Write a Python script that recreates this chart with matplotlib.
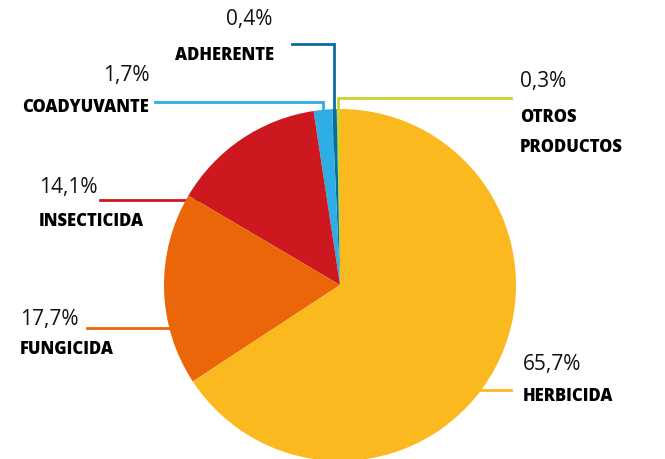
import numpy as np
import matplotlib
matplotlib.use("Agg")
import matplotlib.pyplot as plt

# datos del grafico (porcentaje del mercado por tipo de producto)
categorias = ["OTROS\nPRODUCTOS", "ADHERENTE", "COADYUVANTE", "INSECTICIDA", "FUNGICIDA", "HERBICIDA"]
porcentajes = [0.3, 0.4, 1.7, 14.1, 17.7, 65.7]
etiquetas_pct = ["0,3%", "0,4%", "1,7%", "14,1%", "17,7%", "65,7%"]
colores = ["#c8d42f", "#0b6c9c", "#2eaee4", "#cd181f", "#eb6609", "#fbb920"]

W, H = 665, 460
cx, cy, radio = 340, 286, 176  # en pixeles, origen arriba-izquierda


def Y(y):
    return H - y


# posiciones de los textos: (x, y del %, y de la etiqueta)
textos = {
    "OTROS\nPRODUCTOS": (520, 82, 132),
    "ADHERENTE": (175, 20, 55),
    "COADYUVANTE": (22, 75, 107),
    "INSECTICIDA": (39, 188, 222),
    "FUNGICIDA": (20, 319, 350),
    "HERBICIDA": (523, 365, 397),
}
x_pct = {"ADHERENTE": 226, "COADYUVANTE": 103}

fig = plt.figure(figsize=(W / 100, H / 100), dpi=100)
ax = fig.add_axes([0, 0, 1, 1])

wedges, _ = ax.pie(porcentajes, colors=colores, startangle=90, counterclock=True,
                   center=(cx, Y(cy)), radius=radio, wedgeprops=dict(linewidth=0))
for w in wedges:
    w.set_zorder(3)

ax.set_xlim(0, W)
ax.set_ylim(0, H)
ax.set_aspect("equal")
ax.axis("off")

# lineas guia
lw = 2.0
# las tres pequenas salen hacia arriba desde la mitad de su porcion
codos = {"OTROS\nPRODUCTOS": (99, 511), "ADHERENTE": (45, 292), "COADYUVANTE": (103, 155)}
for w, cat, col in zip(wedges, categorias, colores):
    if cat in codos:
        yc, xf = codos[cat]
        mid = np.deg2rad((w.theta1 + w.theta2) / 2)
        xm = cx + radio * np.cos(mid)
        ax.plot([xm, xm, xf], [Y(150), Y(yc), Y(yc)], color=col, lw=lw,
                solid_joinstyle="miter", zorder=2)

horiz = {"INSECTICIDA": (201, 100, 230), "FUNGICIDA": (329, 87, 220), "HERBICIDA": (391, 450, 511)}
for cat, col in zip(categorias, colores):
    if cat in horiz:
        yl, x0, x1 = horiz[cat]
        ax.plot([x0, x1], [Y(yl), Y(yl)], color=col, lw=lw, zorder=2)

# textos
for cat, pct in zip(categorias, etiquetas_pct):
    x, ypct, ylab = textos[cat]
    ax.text(x_pct.get(cat, x), Y(ypct), pct, fontsize=15, family="Open Sans",
            color="#111111", ha="left", va="center")
    ax.text(x, Y(ylab), cat, fontsize=12, family="Open Sans", fontweight=800,
            color="#000000", ha="left", va="center", linespacing=2.0)

fig.savefig("out.png", dpi=100)
